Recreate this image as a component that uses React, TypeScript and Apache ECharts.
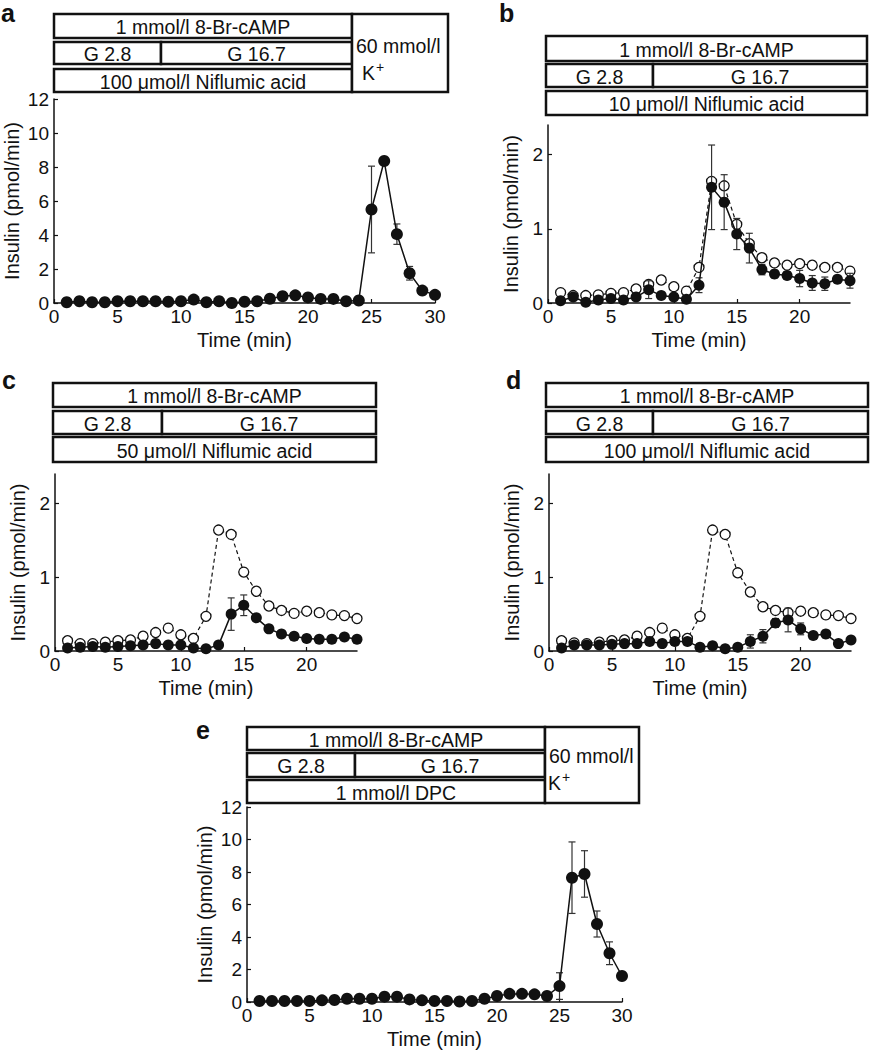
import React, { useEffect, useRef } from "react";
import * as echarts from "echarts";

// ---------- data ----------
const timeA = [1, 2, 3, 4, 5, 6, 7, 8, 9, 10, 11, 12, 13, 14, 15, 16, 17, 18, 19, 20, 21, 22, 23, 24, 25, 26, 27, 28, 29, 30];
const filledA = [0.04, 0.1, 0.04, 0.04, 0.1, 0.1, 0.1, 0.1, 0.07, 0.1, 0.2, 0.04, 0.1, 0.0, 0.07, 0.1, 0.25, 0.4, 0.45, 0.33, 0.24, 0.24, 0.1, 0.15, 5.5, 8.35, 4.05, 1.75, 0.73, 0.48];
const errA = [[25, 2.55], [27, 0.6], [28, 0.4]];

const time24 = [1, 2, 3, 4, 5, 6, 7, 8, 9, 10, 11, 12, 13, 14, 15, 16, 17, 18, 19, 20, 21, 22, 23, 24];
const openB = [0.14, 0.1, 0.1, 0.11, 0.13, 0.14, 0.19, 0.25, 0.31, 0.22, 0.16, 0.48, 1.64, 1.58, 1.06, 0.8, 0.61, 0.54, 0.51, 0.53, 0.51, 0.48, 0.48, 0.43];
const filledB = [0.03, 0.08, 0.01, 0.04, 0.06, 0.04, 0.08, 0.18, 0.1, 0.08, 0.05, 0.24, 1.56, 1.36, 0.93, 0.74, 0.45, 0.39, 0.37, 0.33, 0.27, 0.26, 0.32, 0.3];
const errB = [[8, 0.12], [12, 0.1], [13, 0.57], [14, 0.37], [15, 0.21], [16, 0.2], [17, 0.07], [18, 0.05], [19, 0.05], [20, 0.11], [21, 0.1], [22, 0.09], [23, 0.05], [24, 0.1]];

const openC = [0.14, 0.1, 0.1, 0.12, 0.14, 0.15, 0.2, 0.25, 0.31, 0.22, 0.17, 0.47, 1.64, 1.58, 1.07, 0.81, 0.61, 0.55, 0.51, 0.54, 0.52, 0.49, 0.48, 0.44];
const filledC = [0.04, 0.05, 0.06, 0.05, 0.06, 0.07, 0.08, 0.1, 0.08, 0.08, 0.04, 0.03, 0.08, 0.5, 0.62, 0.45, 0.3, 0.23, 0.2, 0.17, 0.16, 0.16, 0.19, 0.16];
const errC = [[14, 0.22], [15, 0.14]];

const openD = [0.14, 0.11, 0.1, 0.12, 0.14, 0.15, 0.2, 0.25, 0.31, 0.22, 0.17, 0.47, 1.64, 1.58, 1.06, 0.8, 0.6, 0.55, 0.52, 0.54, 0.52, 0.49, 0.48, 0.44];
const filledD = [0.04, 0.08, 0.08, 0.08, 0.09, 0.1, 0.1, 0.13, 0.1, 0.13, 0.13, 0.05, 0.07, 0.03, 0.05, 0.13, 0.2, 0.38, 0.42, 0.3, 0.21, 0.23, 0.1, 0.15];
const errD = [[13, 0.04], [16, 0.09], [17, 0.09], [18, 0.06], [19, 0.16], [20, 0.08], [22, 0.05]];

const filledE = [0.06, 0.06, 0.06, 0.06, 0.06, 0.1, 0.12, 0.2, 0.2, 0.2, 0.33, 0.33, 0.16, 0.1, 0.06, 0.06, 0.03, 0.06, 0.2, 0.37, 0.5, 0.5, 0.47, 0.37, 0.98, 7.65, 7.88, 4.8, 3.0, 1.6];
const errE = [[21, 0.15], [22, 0.12], [25, 0.82], [26, 2.2], [27, 1.43], [28, 0.8], [29, 0.7]];

const ticks30 = [0, 5, 10, 15, 20, 25, 30];
const ticks24 = [0, 5, 10, 15, 20];
const ticksBig = [0, 2, 4, 6, 8, 10, 12];
const ticksSmall = [0, 1, 2];

// ---------- styles ----------
const FONT = '"Liberation Sans", Arial, Helvetica, sans-serif';
const INK = "#111";

function App() {
  const ref = useRef<HTMLDivElement>(null);

  useEffect(() => {
    if (!ref.current) return;
    const chart = echarts.init(ref.current, null, { renderer: "svg" });

    const grids = [
      { left: 54, top: 99, width: 381, height: 204 },
      { left: 548, top: 125, width: 302, height: 178 },
      { left: 55, top: 474, width: 302, height: 177 },
      { left: 549, top: 474, width: 302, height: 177 },
      { left: 247, top: 807, width: 375, height: 196 },
    ];

    const mkX = (i: number, max: number, ticks: number[]) => ({
      type: "value",
      gridIndex: i,
      min: 0,
      max,
      name: "Time (min)",
      nameLocation: "middle",
      nameGap: 27,
      nameTextStyle: { fontFamily: FONT, fontSize: 20, color: INK, verticalAlign: "top" },
      axisLine: { show: true, lineStyle: { color: INK, width: 1.5 } },
      axisTick: { show: true, inside: true, length: 4, customValues: ticks, lineStyle: { color: INK, width: 1.2 } },
      axisLabel: { customValues: ticks, fontFamily: FONT, fontSize: 19, color: INK, margin: 4 },
      splitLine: { show: false },
    });
    const mkY = (i: number, max: number, ticks: number[], gap: number) => ({
      type: "value",
      gridIndex: i,
      min: 0,
      max,
      name: "Insulin (pmol/min)",
      nameLocation: "middle",
      nameGap: gap,
      nameRotate: 90,
      nameTextStyle: { fontFamily: FONT, fontSize: 20, color: INK },
      axisLine: { show: true, lineStyle: { color: INK, width: 1.5 } },
      axisTick: { show: true, inside: true, length: 4, customValues: ticks, lineStyle: { color: INK, width: 1.2 } },
      axisLabel: { customValues: ticks, fontFamily: FONT, fontSize: 19, color: INK, margin: 5 },
      splitLine: { show: false },
    });

    const xAxis = [mkX(0, 30, ticks30), mkX(1, 24, ticks24), mkX(2, 24, ticks24), mkX(3, 24, ticks24), mkX(4, 30, ticks30)];
    const yAxis = [mkY(0, 12, ticksBig, 32), mkY(1, 2.4, ticksSmall, 27), mkY(2, 2.4, ticksSmall, 27), mkY(3, 2.4, ticksSmall, 27), mkY(4, 12, ticksBig, 32)];

    const pairs = (t: number[], v: number[]) => t.map((x, k) => [x, v[k]]);

    const filledSeries = (i: number, t: number[], v: number[], size: number) => ({
      type: "line",
      xAxisIndex: i,
      yAxisIndex: i,
      data: pairs(t, v),
      symbol: "circle",
      symbolSize: size,
      itemStyle: { color: INK, borderColor: INK, borderWidth: 0 },
      lineStyle: { color: INK, width: 1.5 },
      z: 4,
      silent: true,
    });
    const openSeries = (i: number, t: number[], v: number[]) => ({
      type: "line",
      xAxisIndex: i,
      yAxisIndex: i,
      data: pairs(t, v),
      symbol: "circle",
      symbolSize: 10,
      itemStyle: { color: "#fff", borderColor: INK, borderWidth: 1.3 },
      lineStyle: { color: INK, width: 1.2, type: [4, 3] },
      z: 2,
      silent: true,
    });
    const errSeries = (i: number, t: number[], v: number[], errs: number[][]) => ({
      type: "custom",
      xAxisIndex: i,
      yAxisIndex: i,
      z: 3,
      silent: true,
      data: errs.map(([x, e]) => {
        const y = v[t.indexOf(x)];
        return [x, y - e, y + e];
      }),
      encode: { x: 0, y: [1, 2] },
      renderItem: (params: any, api: any) => {
        const x = api.value(0);
        const lo = api.coord([x, api.value(1)]);
        const hi = api.coord([x, api.value(2)]);
        const w = 3.5;
        const st = { stroke: "#333", lineWidth: 1.2 };
        return {
          type: "group",
          children: [
            { type: "line", shape: { x1: lo[0], y1: lo[1], x2: hi[0], y2: hi[1] }, style: st },
            { type: "line", shape: { x1: hi[0] - w, y1: hi[1], x2: hi[0] + w, y2: hi[1] }, style: st },
            { type: "line", shape: { x1: lo[0] - w, y1: lo[1], x2: lo[0] + w, y2: lo[1] }, style: st },
          ],
        };
      },
    });

    const series = [
      errSeries(0, timeA, filledA, errA),
      filledSeries(0, timeA, filledA, 12),
      openSeries(1, time24, openB),
      errSeries(1, time24, filledB, errB),
      filledSeries(1, time24, filledB, 11),
      openSeries(2, time24, openC),
      errSeries(2, time24, filledC, errC),
      filledSeries(2, time24, filledC, 11),
      openSeries(3, time24, openD),
      errSeries(3, time24, filledD, errD),
      filledSeries(3, time24, filledD, 11),
      errSeries(4, timeA, filledE, errE),
      filledSeries(4, timeA, filledE, 12),
    ];

    // ---------- annotation boxes ----------
    const box = (x: number, y: number, w: number, h: number, text?: string) => {
      const children: any[] = [
        { type: "rect", shape: { x, y, width: w, height: h }, style: { fill: "#fff", stroke: INK, lineWidth: 2.5 } },
      ];
      if (text) {
        children.push({
          type: "text",
          x: x + w / 2,
          y: y + h / 2 + 1,
          style: { text, fill: INK, font: `19.5px ${FONT}`, textAlign: "center", textVerticalAlign: "middle", align: "center", verticalAlign: "middle" },
        });
      }
      return children;
    };
    const txt = (x: number, y: number, text: string, size: number, weight = "normal", align = "left") => ({
      type: "text",
      x,
      y,
      style: { text, fill: INK, font: `${weight} ${size}px ${FONT}`, textAlign: align, textVerticalAlign: "middle", align, verticalAlign: "middle" },
    });

    const graphics: any[] = [
      // panel a
      ...box(54, 14, 298, 24, "1 mmol/l 8-Br-cAMP"),
      ...box(54, 42, 107, 22, "G 2.8"),
      ...box(161, 42, 191, 22, "G 16.7"),
      ...box(54, 69, 298, 23, "100 μmol/l Niflumic acid"),
      ...box(352, 14, 96, 78),
      txt(356, 46, "60 mmol/l", 19.5),
      txt(362, 73, "K", 19.5),
      txt(376, 67, "+", 14),
      // panel b
      ...box(546, 36, 321, 25, "1 mmol/l 8-Br-cAMP"),
      ...box(546, 64, 107, 23, "G 2.8"),
      ...box(653, 64, 214, 23, "G 16.7"),
      ...box(546, 91, 321, 24, "10 μmol/l Niflumic acid"),
      // panel c
      ...box(53, 383, 323, 24, "1 mmol/l 8-Br-cAMP"),
      ...box(53, 411, 109, 23, "G 2.8"),
      ...box(162, 411, 214, 23, "G 16.7"),
      ...box(53, 437, 323, 25, "50 μmol/l Niflumic acid"),
      // panel d
      ...box(546, 383, 322, 24, "1 mmol/l 8-Br-cAMP"),
      ...box(546, 411, 107, 23, "G 2.8"),
      ...box(653, 411, 215, 23, "G 16.7"),
      ...box(546, 437, 322, 25, "100 μmol/l Niflumic acid"),
      // panel e
      ...box(247, 727, 298, 23, "1 mmol/l 8-Br-cAMP"),
      ...box(247, 753, 108, 24, "G 2.8"),
      ...box(355, 753, 190, 24, "G 16.7"),
      ...box(247, 780, 298, 23, "1 mmol/l DPC"),
      ...box(545, 727, 94, 76),
      txt(549, 756, "60 mmol/l", 19.5),
      txt(548, 783, "K", 19.5),
      txt(562, 777, "+", 14),
      // panel letters
      txt(1, 13, "a", 25, "bold"),
      txt(499, 13, "b", 25, "bold"),
      txt(2, 380, "c", 25, "bold"),
      txt(506, 380, "d", 25, "bold"),
      txt(196, 730, "e", 25, "bold"),
    ];

    chart.setOption({
      animation: false,
      backgroundColor: "#fff",
      textStyle: { fontFamily: FONT },
      grid: grids,
      xAxis,
      yAxis,
      series,
      graphic: { elements: graphics },
    });

    return () => chart.dispose();
  }, []);

  return <div ref={ref} style={{ position: "absolute", left: 0, top: 0, width: 870, height: 1050 }} />;
}

export default App;
